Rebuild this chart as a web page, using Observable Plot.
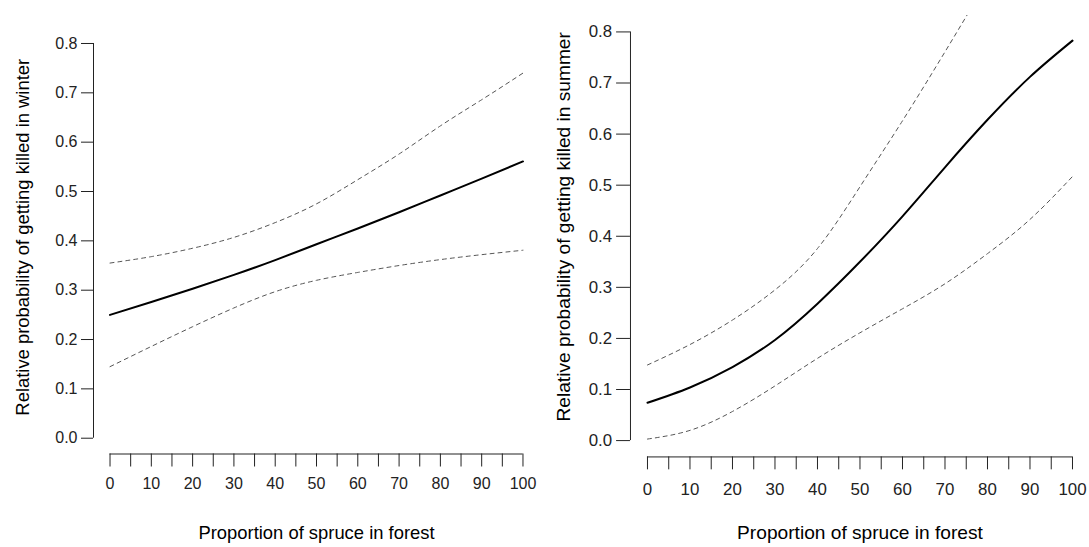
<!DOCTYPE html>
<html>
<head>
<meta charset="utf-8">
<script src="https://cdn.jsdelivr.net/npm/d3@7"></script>
<script src="https://cdn.jsdelivr.net/npm/@observablehq/plot@0.6"></script>
<style>
  html, body { margin: 0; padding: 0; background: #fff; overflow: hidden; }
  #wrap { position: relative; width: 1089px; height: 547px; overflow: hidden; }
  #left, #right { position: absolute; top: 0; }
  #left { left: 0; }
  #right { left: 545px; }
</style>
</head>
<body>
<div id="wrap"><div id="left"></div><div id="right"></div></div>
<script>
// Proportion of spruce in forest (%)
const spruce = [0, 10, 20, 30, 40, 50, 60, 70, 80, 90, 100];

// Winter panel
const winterFit   = [0.250, 0.276, 0.303, 0.331, 0.361, 0.393, 0.425, 0.458, 0.492, 0.526, 0.561];
const winterUpper = [0.355, 0.368, 0.385, 0.407, 0.437, 0.475, 0.524, 0.576, 0.633, 0.686, 0.740];
const winterLower = [0.145, 0.186, 0.226, 0.264, 0.297, 0.320, 0.336, 0.350, 0.362, 0.372, 0.381];

// Summer panel
const summerFit   = [0.074, 0.104, 0.144, 0.197, 0.268, 0.350, 0.439, 0.535, 0.628, 0.712, 0.783];
const summerLower = [0.003, 0.020, 0.057, 0.107, 0.161, 0.211, 0.258, 0.307, 0.366, 0.433, 0.517];
const summerUpperX = [0, 10, 20, 30, 40, 50, 60, 70, 80];
const summerUpper  = [0.148, 0.188, 0.236, 0.295, 0.376, 0.497, 0.626, 0.761, 0.900];

// Axis ticks
const xTicks = [0, 5, 10, 15, 20, 25, 30, 35, 40, 45, 50, 55, 60, 65, 70, 75, 80, 85, 90, 95, 100];
const yTicks = [0, 0.1, 0.2, 0.3, 0.4, 0.5, 0.6, 0.7, 0.8];

const xTitle = "Proportion of spruce in forest";
const winterTitle = "Relative probability of getting killed in winter";
const summerTitle = "Relative probability of getting killed in summer";

const toRows = (xs, ys) => xs.map((x, i) => ({x, y: ys[i]}));

function panel(o) {
  const ink = "#222";
  return Plot.plot({
    width: o.width, height: 547,
    marginLeft: o.ml, marginRight: o.mr, marginTop: o.mt, marginBottom: o.mb,
    x: {domain: [-4, 104]},
    y: {domain: [-0.032, 0.832]},
    style: {fontFamily: "'Liberation Sans', Arial, sans-serif", background: "transparent", color: ink},
    marks: [
      Plot.ruleX([-4], {y1: 0, y2: 0.8, stroke: ink, strokeWidth: 1}),
      Plot.ruleY([-0.032], {x1: 0, x2: 100, stroke: ink, strokeWidth: 1}),
      Plot.axisY({ticks: yTicks, tickSize: o.ytick, tickPadding: o.ypad, tickFormat: d3.format(".1f"),
                  fontSize: o.fs, label: null, color: ink}),
      Plot.axisX({ticks: xTicks, tickSize: 13, tickPadding: o.xpad, tickFormat: d => d % 10 === 0 ? String(d) : "",
                  fontSize: o.fs, label: null, color: ink}),
      Plot.line(toRows(o.ux, o.upper), {x: "x", y: "y", stroke: "#555", strokeWidth: 1, strokeDasharray: "4,4", curve: "natural", clip: true}),
      Plot.line(toRows(spruce, o.lower), {x: "x", y: "y", stroke: "#555", strokeWidth: 1, strokeDasharray: "4,4", curve: "natural", clip: true}),
      Plot.line(toRows(spruce, o.fit), {x: "x", y: "y", stroke: "#000", strokeWidth: 2, curve: "natural", clip: true}),
      Plot.text([o.ytitle], {frameAnchor: "left", rotate: -90, dx: o.ydx, dy: o.ydy, fontSize: o.ts,
                             textAnchor: "middle", lineAnchor: "middle", fill: "#000"}),
      Plot.text([xTitle], {frameAnchor: "bottom", dy: o.xdy, fontSize: o.ts,
                           textAnchor: "middle", lineAnchor: "middle", fill: "#000"})
    ]
  });
}

document.getElementById("left").append(panel({
  width: 545, ml: 93, mr: 6, mt: 27.2, mb: 93.5,
  fit: winterFit, upper: winterUpper, lower: winterLower, ux: spruce,
  ytick: 12, ypad: 4, xpad: 10.5, fs: 16, ts: 18.4,
  ytitle: winterTitle, ydx: -70, ydy: -3.6, xdy: 79
}));

document.getElementById("right").append(panel({
  width: 548, ml: 85.6, mr: 0, mt: 15.2, mb: 87.2,
  fit: summerFit, upper: summerUpper, lower: summerLower, ux: summerUpperX,
  ytick: 14, ypad: 4.5, xpad: 13, fs: 17, ts: 19.3,
  ytitle: summerTitle, ydx: -67.6, ydy: -9.5, xdy: 76
}));
</script>
</body>
</html>
